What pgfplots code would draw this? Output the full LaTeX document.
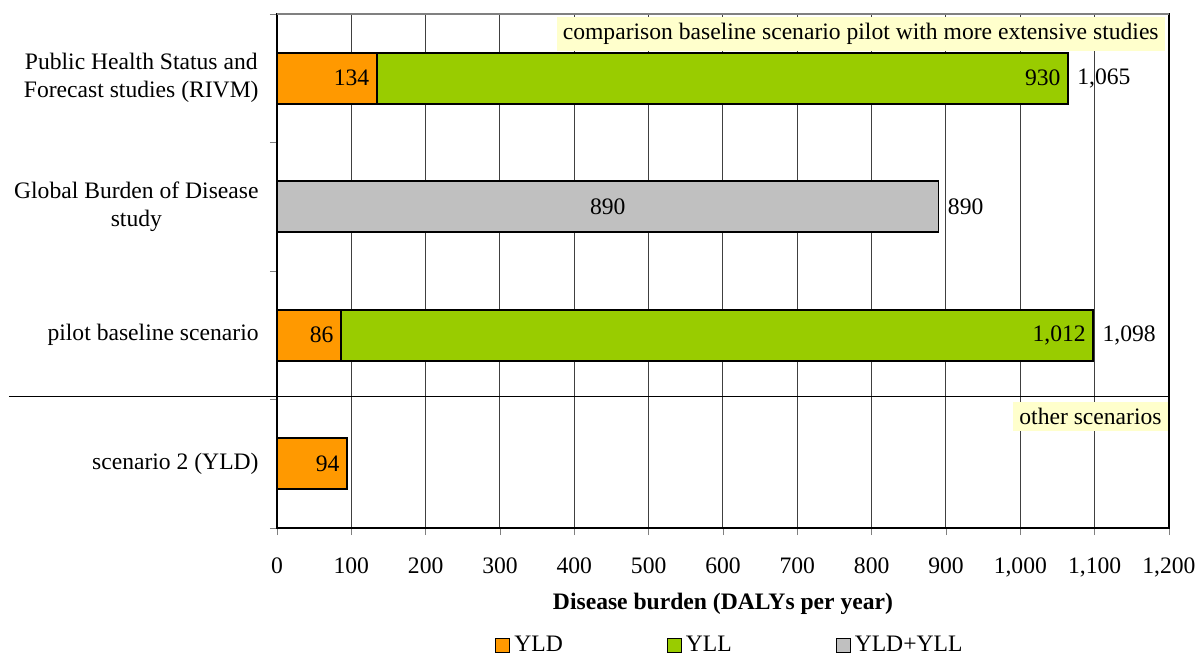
\documentclass[border=0pt]{standalone}
\usepackage{fontspec}
\setmainfont{Liberation Serif}
\usepackage{pgfplots}
\usepackage{pgfplotstable}
\pgfplotsset{compat=1.18}
\definecolor{yldcol}{HTML}{FF9900}
\definecolor{yllcol}{HTML}{99CC00}
\definecolor{bothcol}{HTML}{C0C0C0}
\definecolor{notecol}{HTML}{FFFFCC}

% y: 0 = scenario 2, 3 = RIVM (top)
\pgfplotstableread{
y YLD YLL both
0 94 0 0
1 86 1012 0
2 0 0 890
3 134 930 0
}\burden

% value labels at the end of each segment
\pgfplotstableread{
x y label
134 3 134
1064 3 930
86 1 86
1098 1 1,012
94 0 94
}\inlabels
\pgfplotstableread{
x y label
445 2 890
}\midlabels
\pgfplotstableread{
x y label
1064 3 1,065
890 2 890
1098 1 1,098
}\totlabels

\begin{document}
\fontsize{11.8}{14}\selectfont
\begin{tikzpicture}[font=\fontsize{11.8}{14}\selectfont]
\begin{axis}[
    width=446pt, height=257pt, scale only axis,
    xbar stacked, bar width=25.5pt,
    xmin=0, xmax=1200, ymin=-0.5, ymax=3.5,
    clip=false,
    xtick={0,100,...,1200},
    scaled x ticks=false,
    /pgf/number format/1000 sep={,},
    /pgf/number format/assume math mode=true,
    ytick={0,1,2,3},
    yticklabels={scenario 2 (YLD), pilot baseline scenario,
        {Global Burden of Disease\\study},
        {Public Health Status and\\Forecast studies (RIVM)}},
    minor ytick={-0.5,0.5,1.5,2.5,3.5},
    every major y tick/.style={draw=none},
    tick align=outside, tick pos=left,
    major tick length=3.5pt, minor tick length=3.5pt,
    xmajorgrids,
    major x grid style={black!75, line width=0.5pt},
    axis line style={line width=0.6pt},
    yticklabel style={align=center, inner sep=0pt, xshift=-5.5pt},
    xticklabel style={inner sep=0pt, yshift=-11pt},
    xlabel={\textbf{Disease burden (DALYs per year)}},
    xlabel style={at={(axis description cs:0.5,-0.148)}, anchor=center, inner sep=0pt},
    legend columns=3,
    legend style={at={(axis description cs:0.2444,-0.2285)}, anchor=west,
        draw=none, fill=none, inner sep=0pt,
        /tikz/every even column/.append style={column sep=50pt}},
    legend image code/.code={\draw[#1, line width=0.5pt] (0pt,-3.5pt) rectangle (7pt,3.5pt);},
]
\addplot[fill=yldcol, draw=black, line width=0.9pt] table[x=YLD, y=y] {\burden};
\addlegendentry{YLD}
\addplot[fill=yllcol, draw=black, line width=0.9pt] table[x=YLL, y=y] {\burden};
\addlegendentry{YLL}
\addplot[fill=bothcol, draw=black, line width=0.9pt] table[x=both, y=y] {\burden};
\addlegendentry{YLD+YLL}

\draw[line width=0.5pt] ([xshift=-134pt]rel axis cs:0,0.255) -- (rel axis cs:1,0.255);
\draw[gray, line width=0.8pt] (rel axis cs:0,1) -- (rel axis cs:1,1);
\node[fill=notecol, anchor=north east, inner sep=3pt]
    at ([xshift=-2pt,yshift=-1.5pt]rel axis cs:1,1)
    {comparison baseline scenario pilot with more extensive studies};
\node[fill=notecol, anchor=north east, inner sep=3pt]
    at ([xshift=-0.5pt]rel axis cs:1,0.245) {other scenarios};
\end{axis}

\begin{axis}[
    width=446pt, height=257pt, scale only axis,
    xmin=0, xmax=1200, ymin=-0.5, ymax=3.5,
    hide axis, clip=false,
]
\addplot[draw=none, mark=none, nodes near coords, point meta=explicit symbolic,
    every node near coord/.append style={anchor=east, inner sep=0pt, xshift=-3.5pt}]
    table[x=x, y=y, meta=label] {\inlabels};
\addplot[draw=none, mark=none, nodes near coords, point meta=explicit symbolic,
    every node near coord/.append style={anchor=center, inner sep=0pt}]
    table[x=x, y=y, meta=label] {\midlabels};
\addplot[draw=none, mark=none, nodes near coords, point meta=explicit symbolic,
    every node near coord/.append style={anchor=west, inner sep=0pt, xshift=4.5pt}]
    table[x=x, y=y, meta=label] {\totlabels};
\end{axis}

\pgfresetboundingbox
\path[use as bounding box] (-138.5pt,-63.5pt) rectangle (459.5pt,264pt);
\end{tikzpicture}
\end{document}
